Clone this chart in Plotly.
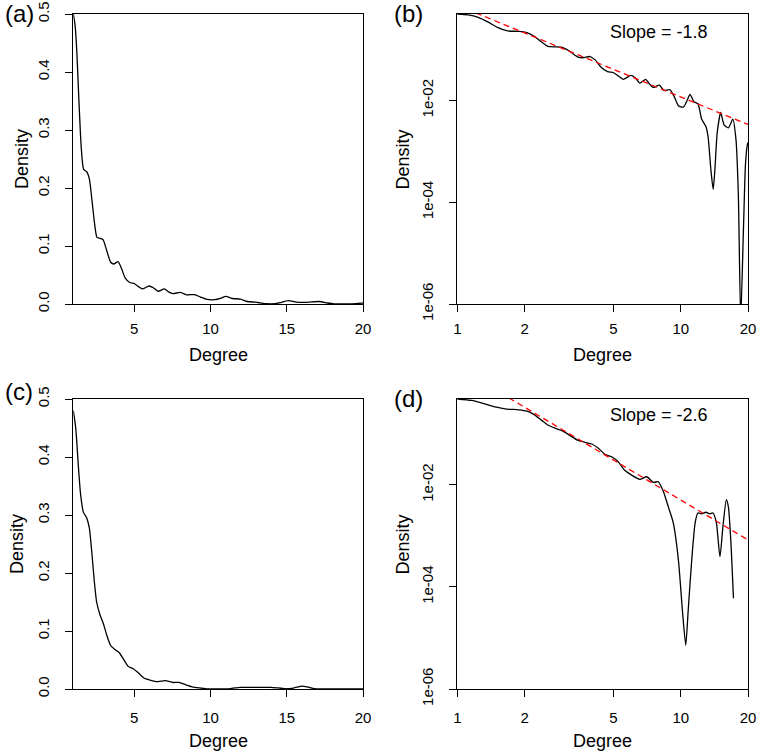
import plotly.graph_objects as go

# ---------------- data ----------------
degree_1 = [1.00, 1.12, 1.24, 1.37, 1.52, 1.68, 1.88, 2.05, 2.22, 2.38, 2.55, 2.75, 2.95,
            3.17, 3.45, 3.65, 3.93, 4.15, 4.40, 4.70, 5.00, 5.27, 5.53, 5.97, 6.25, 6.56,
            6.97, 7.25, 7.54, 8.02, 8.42, 8.95, 9.34, 9.76, 10.27, 10.70, 11.00, 11.45,
            11.96, 12.40, 12.95, 13.26, 13.64, 13.97, 14.22, 14.56, 15.10, 15.63, 16.34,
            17.10, 17.67, 18.10, 18.55, 19.10, 19.50, 19.90, 20.00]
density_1 = [0.500, 0.480, 0.430, 0.350, 0.270, 0.232, 0.228, 0.216, 0.180, 0.142, 0.115,
             0.113, 0.111, 0.094, 0.072, 0.069, 0.073, 0.062, 0.045, 0.037, 0.035, 0.030,
             0.026, 0.031, 0.028, 0.022, 0.026, 0.021, 0.018, 0.020, 0.0158, 0.0162,
             0.0120, 0.0079, 0.0074, 0.0102, 0.0132, 0.0095, 0.0085, 0.0043, 0.0031,
             0.0019, 0.00044, 0.00018, 0.00044, 0.0023, 0.0058, 0.0033, 0.0029, 0.0043,
             0.0017, 0.00015, 0.0000005, 0.000034, 0.00059, 0.0014, 0.0015]

degree_2 = [1.00, 1.16, 1.33, 1.48, 1.66, 1.88, 2.05, 2.20, 2.38, 2.53, 2.75, 2.97, 3.19,
            3.45, 3.73, 4.00, 4.28, 4.60, 4.93, 5.26, 5.63, 6.03, 6.56, 7.04, 7.54, 7.93,
            8.36, 8.80, 9.26, 9.76, 10.20, 10.53, 10.80, 11.20, 11.60, 11.93, 12.40, 12.95,
            13.50, 13.95, 14.44, 14.98, 15.44, 16.00, 16.34, 16.81, 17.22, 17.40, 18.50,
            20.00]
density_2 = [0.480, 0.450, 0.385, 0.335, 0.305, 0.295, 0.278, 0.240, 0.185, 0.150, 0.128,
             0.113, 0.093, 0.075, 0.068, 0.063, 0.052, 0.039, 0.035, 0.028, 0.019, 0.0155,
             0.0128, 0.0144, 0.0112, 0.0115, 0.0074, 0.0037, 0.0018, 0.00034, 0.00003,
             0.0000072, 0.000035, 0.00034, 0.0018, 0.0028, 0.0027, 0.0029, 0.0027, 0.0028,
             0.0018, 0.00039, 0.0015, 0.0051, 0.0037, 0.00062, 0.00006, 0.0, 0.0, 0.0]

slope_1, prefactor_1 = -1.8, 0.74
slope_2, prefactor_2 = -2.6, 2.01
fit_x = [1, 20]

panel_labels = ["(a)", "(b)", "(c)", "(d)"]
slope_labels = ["Slope = -1.8", "Slope = -2.6"]
lin_xticks = [5, 10, 15, 20]
lin_yticks = [0.0, 0.1, 0.2, 0.3, 0.4, 0.5]
lin_yticklabels = ["0.0", "0.1", "0.2", "0.3", "0.4", "0.5"]
log_xticks = [1, 2, 5, 10, 20]
log_yticks = [1e-6, 1e-4, 1e-2]
log_yticklabels = ["1e-06", "1e-04", "1e-02"]

# ---------------- layout helpers ----------------
W, H = 760, 755
FONT = "Liberation Sans, Arial, Helvetica, sans-serif"


def fx(px):
    return px / W


def fy(py):
    return 1 - py / H


# panel boxes in pixels: (left, right, top, bottom)
boxes = {
    "a": (73.3, 363.0, 14.0, 304.0),
    "b": (457.3, 748.0, 14.0, 304.0),
    "c": (73.3, 363.0, 399.0, 689.0),
    "d": (457.3, 748.0, 399.0, 689.0),
}

fig = go.Figure()

line_style = dict(color="black", width=1.3, shape="spline", smoothing=0.6)
fit_style = dict(color="red", width=1.3, dash="6px,4px")

# (a) linear, network 1
fig.add_trace(go.Scatter(x=degree_1, y=density_1, mode="lines", line=line_style,
                         xaxis="x", yaxis="y", showlegend=False))
# (b) log-log, network 1
fig.add_trace(go.Scatter(x=degree_1, y=[d if d > 0 else None for d in density_1],
                         mode="lines", line=line_style, xaxis="x2", yaxis="y2",
                         showlegend=False))
fig.add_trace(go.Scatter(x=fit_x, y=[prefactor_1 * v ** slope_1 for v in fit_x],
                         mode="lines", line=fit_style, xaxis="x2", yaxis="y2",
                         showlegend=False))
# (c) linear, network 2
fig.add_trace(go.Scatter(x=degree_2, y=density_2, mode="lines", line=line_style,
                         xaxis="x3", yaxis="y3", showlegend=False))
# (d) log-log, network 2
fig.add_trace(go.Scatter(x=degree_2, y=[d if d > 0 else None for d in density_2],
                         mode="lines", line=line_style, xaxis="x4", yaxis="y4",
                         showlegend=False))
fig.add_trace(go.Scatter(x=fit_x, y=[prefactor_2 * v ** slope_2 for v in fit_x],
                         mode="lines", line=fit_style, xaxis="x4", yaxis="y4",
                         showlegend=False))

common = dict(showline=True, linecolor="black", linewidth=1, mirror=True,
              ticks="outside", ticklen=7, tickwidth=1, tickcolor="black",
              showgrid=False, zeroline=False, ticklabeloverflow="allow",
              automargin=False,
              tickfont=dict(family=FONT, size=15, color="black"))
XSO_TOP = 4   # x tick label standoff, top row
XSO_BOT = 8   # x tick label standoff, bottom row
YSO = 10      # y tick label standoff


def xdom(k):
    l, r, t, b = boxes[k]
    return [fx(l), fx(r)]


def ydom(k):
    l, r, t, b = boxes[k]
    return [fy(b), fy(t)]


layout = dict(
    template="none",
    width=W, height=H, autosize=False,
    margin=dict(l=0, r=0, t=0, b=0, pad=0, autoexpand=False),
    paper_bgcolor="white", plot_bgcolor="white", showlegend=False,
    font=dict(family=FONT, color="black"),
    xaxis=dict(domain=xdom("a"), anchor="y", range=[1, 20], tickvals=lin_xticks,
               ticklabelstandoff=XSO_TOP, **common),
    yaxis=dict(domain=ydom("a"), anchor="x", range=[0, 0.5], tickvals=lin_yticks,
               ticktext=lin_yticklabels, tickangle=-90, ticklabelstandoff=YSO, **common),
    xaxis2=dict(domain=xdom("b"), anchor="y2", type="log", range=[0, 1.30103],
                tickvals=log_xticks, ticktext=[str(v) for v in log_xticks],
                ticklabelstandoff=XSO_TOP, **common),
    yaxis2=dict(domain=ydom("b"), anchor="x2", type="log",
                range=[-6, -0.30103], tickvals=log_yticks, ticktext=log_yticklabels,
                tickangle=-90, ticklabelstandoff=YSO, **common),
    xaxis3=dict(domain=xdom("c"), anchor="y3", range=[1, 20], tickvals=lin_xticks,
                ticklabelstandoff=XSO_BOT, **common),
    yaxis3=dict(domain=ydom("c"), anchor="x3", range=[0, 0.5], tickvals=lin_yticks,
                ticktext=lin_yticklabels, tickangle=-90, ticklabelstandoff=YSO, **common),
    xaxis4=dict(domain=xdom("d"), anchor="y4", type="log", range=[0, 1.30103],
                tickvals=log_xticks, ticktext=[str(v) for v in log_xticks],
                ticklabelstandoff=XSO_BOT, **common),
    yaxis4=dict(domain=ydom("d"), anchor="x4", type="log",
                range=[-6, -0.31876], tickvals=log_yticks, ticktext=log_yticklabels,
                tickangle=-90, ticklabelstandoff=YSO, **common),
)
fig.update_layout(**layout)

ann = []
title_font = dict(family=FONT, size=18, color="black")
density_x = {"a": 22, "b": 402.5, "c": 17, "d": 402.5}
degree_y = {"a": 355, "b": 355, "c": 741, "d": 741}
for k in "abcd":
    l, r, t, b = boxes[k]
    ann.append(dict(x=fx(density_x[k]), y=fy((t + b) / 2), xref="paper", yref="paper",
                    text="Density", textangle=-90, showarrow=False, font=title_font,
                    xanchor="center", yanchor="middle"))
    ann.append(dict(x=fx((l + r) / 2), y=fy(degree_y[k]), xref="paper", yref="paper",
                    text="Degree", showarrow=False, font=title_font,
                    xanchor="center", yanchor="middle"))

label_pos = [(19, 13), (409, 13), (19, 391), (409, 398)]
for lab, (px, py) in zip(panel_labels, label_pos):
    ann.append(dict(x=fx(px), y=fy(py), xref="paper", yref="paper", text=lab,
                    showarrow=False, font=dict(family=FONT, size=24, color="black"),
                    xanchor="center", yanchor="middle"))

slope_pos = [(659, 32), (659, 415)]
for lab, (px, py) in zip(slope_labels, slope_pos):
    ann.append(dict(x=fx(px), y=fy(py), xref="paper", yref="paper", text=lab,
                    showarrow=False, font=title_font, xanchor="center",
                    yanchor="middle"))

fig.update_layout(annotations=ann)
fig.write_html("out.html",
               config={"displayModeBar": False, "responsive": False},
               post_script="document.body.style.margin='0px';"
                           "document.body.style.overflow='hidden';")
